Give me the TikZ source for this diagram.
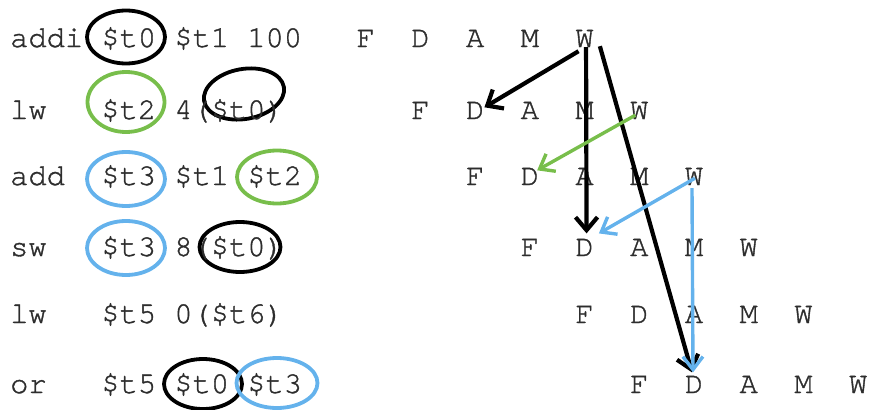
\documentclass[tikz,border=0pt]{standalone}
\usepackage{fontspec}
\usetikzlibrary{shapes.geometric,arrows.meta}
\newfontfamily\monofam{TeX Gyre Cursor}[FakeBold=1.2]
\definecolor{ink}{RGB}{45,45,45}
\definecolor{ringgreen}{RGB}{120,190,75}
\definecolor{ringblue}{RGB}{100,178,236}
\tikzset{
  txt/.style={font=\monofam\fontsize{30.4}{36}\selectfont, text=ink, inner sep=0pt, anchor=base west},
  stage/.style={font=\monofam\fontsize{30.4}{36}\selectfont, text=ink, inner sep=0pt, anchor=base, text height=17.4pt, text depth=0pt},
  ring/.style={ellipse, line width=3.8pt, inner sep=0pt},
  link/.style={line width=3.4pt, -{Straight Barb[length=13pt,width=20pt]}},
  blacklink/.style={line width=4.2pt, -{Straight Barb[length=13pt,width=22pt]}},
}
\begin{document}
\begin{tikzpicture}[x=1pt,y=-1pt]
\useasboundingbox (0,0) rectangle (871,410);
% rings
\node[ring, draw=black, minimum width=78pt, minimum height=53pt] (e1k) at (126,37) {};
\node[ring, draw=ringgreen, minimum width=77pt, minimum height=60pt] (e2g) at (126,102) {};
\node[ring, draw=black, minimum width=81pt, minimum height=50pt, rotate=10] (e2k) at (244,94) {};
\node[ring, draw=ringblue, minimum width=78pt, minimum height=54pt] (e3b) at (126,179) {};
\node[ring, draw=ringgreen, minimum width=80pt, minimum height=53pt] (e3g) at (277,177) {};
\node[ring, draw=ringblue, minimum width=78pt, minimum height=54pt] (e4b) at (126,248) {};
\node[ring, draw=black, minimum width=81pt, minimum height=50pt] (e4k) at (240,247) {};
\node[ring, draw=black, minimum width=78pt, minimum height=50pt] (e6k) at (203,384) {};
\node[ring, draw=ringblue, minimum width=81pt, minimum height=50pt] (e6b) at (277,383) {};
% instructions
\node[txt] (i1) at (10,47) {addi \$t0 \$t1 100};
\node[txt] (i2) at (10,119) {lw~~~\$t2 4(\$t0)};
\node[txt] (i3) at (10,185) {add~~\$t3 \$t1 \$t2};
\node[txt] (i4) at (10,256) {sw~~~\$t3 8(\$t0)};
\node[txt] (i5) at (10,323) {lw~~~\$t5 0(\$t6)};
\node[txt] (i6) at (10,393) {or~~~\$t5 \$t0 \$t3};
% pipeline stages
\foreach \r/\b in {1/47,2/119,3/185,4/256,5/323,6/393}{
  \foreach \L [count=\k from 0] in {F,D,A,M,W}{
    \node[stage] (p\r\L) at ({10+(19+3*(\r-1)+3*\k+0.5)*18.24}, \b) {\L};
  }
}
% forwarding arrows
\draw[blacklink, draw=black] ([shift={(-6,4)}]p1W.south) -- ([shift={(0,-3)}]p2D.east);
\draw[blacklink, draw=black] ([shift={(1.5,0)}]p1W.south) -- ([shift={(2,-5)}]p4D.north);
\draw[blacklink, draw=black] ([shift={(6,-1)}]p1W.south east) -- ([shift={(-2,-3)}]p6D.north);
\draw[link, draw=ringgreen] ([shift={(-4,-4)}]p2W.south) -- ([shift={(-2,-6)}]p3D.east);
\draw[link, draw=ringblue] ([shift={(1,-7)}]p3W.south) -- ([shift={(5,-5)}]p4D.north east);
\draw[link, draw=ringblue] ([shift={(-2,3)}]p3W.south) -- ([shift={(-1,-3)}]p6D.north);
\end{tikzpicture}
\end{document}
